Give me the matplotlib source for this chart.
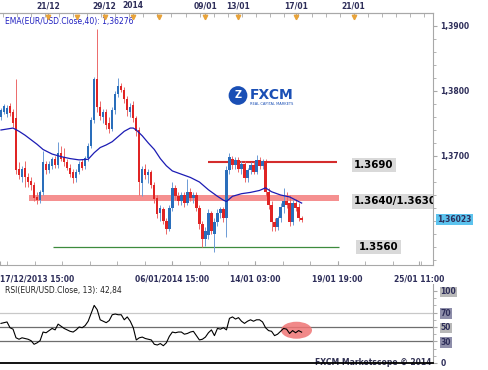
import numpy as np
import matplotlib.pyplot as plt
import matplotlib.transforms as mtransforms
from matplotlib.patches import Ellipse

# EUR/USD 4H candles
opens = [1.3760, 1.3768, 1.3765, 1.3777, 1.3768, 1.3758, 1.3680, 1.3668, 1.3682, 1.3668,
         1.3662, 1.3655, 1.3637, 1.3633, 1.3645, 1.3688, 1.3678, 1.3685, 1.3695, 1.3686,
         1.3705, 1.3698, 1.3690, 1.3682, 1.3675, 1.3666, 1.3676, 1.3690, 1.3684, 1.3697,
         1.3716, 1.3755, 1.3818, 1.3775, 1.3760, 1.3768, 1.3750, 1.3742, 1.3770, 1.3796,
         1.3808, 1.3802, 1.3788, 1.3768, 1.3778, 1.3758, 1.3740, 1.3658, 1.3680, 1.3670,
         1.3675, 1.3655, 1.3635, 1.3612, 1.3618, 1.3600, 1.3588, 1.3620, 1.3650, 1.3638,
         1.3630, 1.3640, 1.3628, 1.3645, 1.3635, 1.3640, 1.3620, 1.3595, 1.3572, 1.3578,
         1.3612, 1.3580, 1.3598, 1.3612, 1.3618, 1.3605, 1.3678, 1.3695, 1.3686, 1.3694,
         1.3680, 1.3688, 1.3666, 1.3678, 1.3686, 1.3676, 1.3694, 1.3684, 1.3692, 1.3645,
         1.3625, 1.3598, 1.3590, 1.3604, 1.3622, 1.3630, 1.3628, 1.3598, 1.3628, 1.3622,
         1.3604]
highs = [1.3774, 1.3780, 1.3778, 1.3781, 1.3772, 1.3818, 1.3690, 1.3685, 1.3692, 1.3674,
         1.3668, 1.3660, 1.3645, 1.3648, 1.3708, 1.3692, 1.3692, 1.3698, 1.3700, 1.3722,
         1.3715, 1.3712, 1.3695, 1.3688, 1.3680, 1.3680, 1.3692, 1.3696, 1.3700, 1.3720,
         1.3760, 1.3822, 1.3895, 1.3785, 1.3772, 1.3772, 1.3760, 1.3775, 1.3800, 1.3820,
         1.3812, 1.3806, 1.3792, 1.3782, 1.3784, 1.3762, 1.3745, 1.3685, 1.3688, 1.3680,
         1.3678, 1.3660, 1.3640, 1.3625, 1.3622, 1.3605, 1.3625, 1.3660, 1.3655, 1.3645,
         1.3645, 1.3645, 1.3665, 1.3650, 1.3645, 1.3645, 1.3625, 1.3600, 1.3590, 1.3618,
         1.3615, 1.3605, 1.3618, 1.3622, 1.3622, 1.3685, 1.3705, 1.3700, 1.3698, 1.3698,
         1.3692, 1.3692, 1.3682, 1.3690, 1.3690, 1.3702, 1.3698, 1.3696, 1.3695, 1.3650,
         1.3630, 1.3604, 1.3608, 1.3628, 1.3650, 1.3645, 1.3640, 1.3632, 1.3634, 1.3628,
         1.3608]
lows = [1.3756, 1.3764, 1.3760, 1.3762, 1.3745, 1.3672, 1.3665, 1.3660, 1.3652, 1.3652,
        1.3648, 1.3630, 1.3626, 1.3627, 1.3640, 1.3672, 1.3674, 1.3680, 1.3682, 1.3682,
        1.3692, 1.3685, 1.3678, 1.3668, 1.3658, 1.3660, 1.3672, 1.3678, 1.3680, 1.3692,
        1.3712, 1.3750, 1.3768, 1.3755, 1.3750, 1.3742, 1.3735, 1.3738, 1.3765, 1.3790,
        1.3798, 1.3782, 1.3762, 1.3760, 1.3752, 1.3730, 1.3640, 1.3638, 1.3665, 1.3658,
        1.3650, 1.3628, 1.3605, 1.3600, 1.3595, 1.3580, 1.3585, 1.3615, 1.3632, 1.3625,
        1.3625, 1.3622, 1.3625, 1.3630, 1.3628, 1.3615, 1.3588, 1.3560, 1.3562, 1.3572,
        1.3580, 1.3552, 1.3592, 1.3605, 1.3598, 1.3576, 1.3672, 1.3680, 1.3680, 1.3675,
        1.3672, 1.3660, 1.3660, 1.3672, 1.3672, 1.3672, 1.3680, 1.3680, 1.3638, 1.3618,
        1.3585, 1.3584, 1.3586, 1.3598, 1.3612, 1.3620, 1.3592, 1.3594, 1.3615, 1.3600,
        1.3598]
closes = [1.3771, 1.3777, 1.3774, 1.3766, 1.3750, 1.3678, 1.3670, 1.3680, 1.3668, 1.3660,
          1.3655, 1.3636, 1.3633, 1.3645, 1.3690, 1.3678, 1.3688, 1.3695, 1.3686, 1.3705,
          1.3696, 1.3690, 1.3682, 1.3672, 1.3666, 1.3676, 1.3688, 1.3682, 1.3697, 1.3716,
          1.3755, 1.3818, 1.3775, 1.3762, 1.3768, 1.3748, 1.3742, 1.3770, 1.3796, 1.3808,
          1.3802, 1.3788, 1.3770, 1.3776, 1.3758, 1.3738, 1.3660, 1.3680, 1.3670, 1.3675,
          1.3655, 1.3634, 1.3610, 1.3620, 1.3600, 1.3588, 1.3620, 1.3650, 1.3638, 1.3630,
          1.3640, 1.3628, 1.3645, 1.3635, 1.3640, 1.3620, 1.3595, 1.3572, 1.3585, 1.3612,
          1.3585, 1.3598, 1.3612, 1.3618, 1.3605, 1.3678, 1.3698, 1.3686, 1.3694, 1.3680,
          1.3688, 1.3666, 1.3678, 1.3686, 1.3676, 1.3694, 1.3684, 1.3692, 1.3645, 1.3625,
          1.3598, 1.3590, 1.3604, 1.3622, 1.3630, 1.3625, 1.3598, 1.3628, 1.3620, 1.3604,
          1.36023]

# EMA(40) (candle index, value)
ema_idx = [0, 4, 6, 8, 10, 12, 14, 17, 20, 23, 26, 29, 31, 33, 35, 37, 39, 41, 43, 44,
           45, 47, 49, 51, 53, 55, 57, 60, 63, 66, 69, 72, 74, 75, 77, 80, 83, 86, 88, 90,
           93, 96, 100]
ema_vals = [1.3740, 1.3743, 1.3738, 1.3732, 1.3725, 1.3718, 1.3710, 1.3703, 1.3699, 1.3696,
            1.3694, 1.3695, 1.3705, 1.3713, 1.3717, 1.3722, 1.3730, 1.3738, 1.3743, 1.3743,
            1.3740, 1.3731, 1.3720, 1.3710, 1.3696, 1.3685, 1.3677, 1.3672, 1.3667, 1.3660,
            1.3648, 1.3638, 1.3632, 1.3630, 1.3638, 1.3642, 1.3644, 1.3647, 1.3651, 1.3645,
            1.3640, 1.3637, 1.36276]

# RSI(13), one value per candle
rsi = [55, 56, 57, 49, 47, 35, 33, 35, 34, 33,
       31, 26, 28, 31, 43, 42, 45, 48, 46, 54,
       51, 48, 46, 44, 43, 46, 50, 49, 52, 58,
       69, 80, 74, 60, 58, 56, 59, 67, 68, 67,
       67, 60, 64, 58, 49, 32, 35, 36, 34, 33,
       32, 26, 25, 27, 24, 28, 37, 43, 42, 43,
       43, 40, 41, 43, 44, 38, 32, 33, 36, 42,
       46, 38, 48, 47, 49, 46, 62, 64, 61, 63,
       58, 55, 58, 60, 58, 60, 60, 57, 49, 45,
       44, 38, 40, 44, 48, 47, 41, 45, 42, 45,
       42.84]

# drawn levels
resist = 1.3690
zone = (1.3630, 1.3640)
support = 1.3560

top_labels = ["21/12", "29/12", "2014", "09/01", "13/01", "17/01", "21/01"]
top_pos = [15.7, 34.3, 44, 68, 79, 98, 117.3]
day_marks = [15.7, 25.3, 34.7, 44, 52.7, 68, 78.7, 98, 117.3]
bottom_labels = ["17/12/2013 15:00", "06/01/2014 15:00", "14/01 03:00", "19/01 19:00", "25/01 11:00"]
bottom_pos = [-0.3, 57, 84.5, 112, 139]

W, H = 489, 370
fig = plt.figure(figsize=(W / 100, H / 100), dpi=100)
fig.patch.set_facecolor('white')


def px_axes(x0, y0, x1, y1):
    return fig.add_axes([x0 / W, 1 - y1 / H, (x1 - x0) / W, (y1 - y0) / H])


navy = '#2e2e5a'
grey = '#a8a8a8'

ax = px_axes(0, 13, 433, 265)
ax2 = px_axes(0, 284, 433, 363)

# --- price panel ---
x = np.arange(len(closes))
o, h, l, c = map(np.array, (opens, highs, lows, closes))
up = c >= o
body_col = np.where(up, '#2a6ebb', '#e02424')
wick_col = np.where(up, '#6c9bd6', '#ec6a6a')

ax.fill_between([9.3, 112.3], zone[0], zone[1], color='#f48484', lw=0, alpha=0.9, zorder=1)
ax.hlines(resist, 68.7, 111.7, color='#d42c2c', lw=1.5, zorder=2)
ax.hlines(support, 17.3, 112.3, color='#3d8b3d', lw=0.9, zorder=2)

ax.vlines(x, l, h, colors=wick_col, lw=0.7, zorder=3)
ax.bar(x, np.maximum(np.abs(c - o), 0.00008), bottom=np.minimum(o, c), width=0.78,
       color=body_col, lw=0, zorder=4)
ax.plot(ema_idx, ema_vals, color='#1c1cb4', lw=0.9, zorder=5)

box = dict(boxstyle='square,pad=0.22', fc='#d9d9d9', ec='none')
ax.text(117.5, resist - 0.0004, f"{resist:.4f}", ha='left', va='center', fontsize=7.4,
        fontweight='bold', bbox=box, clip_on=True)
ax.text(117.5, zone[0], f"{zone[1]:.4f}/{zone[0]:.4f}", ha='left', va='center', fontsize=7.4,
        fontweight='bold', bbox=box, clip_on=True)
ax.text(119, support, f"{support:.4f}", ha='left', va='center', fontsize=7.4,
        fontweight='bold', bbox=box, clip_on=True)

ax.text(0.0115, 0.968, "EMA(EUR/USD.Close,40): " + f"{ema_vals[-1]:.5f}".replace('.', ','),
        transform=ax.transAxes, color='#2020c0', fontsize=5.5, va='center')

ax.set_xlim(-0.33, 143.7)
ax.set_ylim(1.35323, 1.39200)

ax.yaxis.tick_right()
yt = [1.37, 1.38, 1.39]
ax.set_yticks(yt)
ax.set_yticklabels([f"{v:.4f}".replace('.', ',') for v in yt])
ax.set_yticks(np.arange(1.354, 1.392, 0.002), minor=True)
ax.tick_params(axis='y', which='both', direction='out', color=grey, labelcolor=navy,
               labelsize=5.5, length=3, pad=2.5)
ax.tick_params(axis='y', which='minor', length=2)
for t in ax.get_yticklabels():
    t.set_fontweight('bold')

ax.text(1.01, closes[-1], f"{closes[-1]:.5f}".replace('.', ','),
        transform=mtransforms.blended_transform_factory(ax.transAxes, ax.transData),
        ha='left', va='center', fontsize=5.5, fontweight='bold', color=navy,
        bbox=dict(boxstyle='square,pad=0.15', fc='#5cc3ee', ec='none'), clip_on=False)

ax.set_xticks(bottom_pos, bottom_labels)
ax.set_xticks(np.arange(2, 144, 9.17), minor=True)
ax.tick_params(axis='x', which='both', direction='in', color=grey, labelcolor=navy,
               labelsize=5.5, length=3, pad=7)
for t in ax.get_xticklabels():
    t.set_fontweight('bold')
ax.get_xticklabels()[0].set_ha('left')

sec = ax.secondary_xaxis('top')
sec.set_xticks(top_pos, top_labels)
sec.set_xticks(np.arange(0.67, 144, 4.67), minor=True)
sec.tick_params(axis='x', which='both', direction='in', color=grey, labelcolor=navy,
                labelsize=5.5, length=3, pad=2)
for t in sec.get_xticklabels():
    t.set_fontweight('bold')
sec.spines['top'].set_color(grey)

ax.plot(day_marks, [0.985] * len(day_marks), 'v', color='#e8a33a', ms=3.2,
        transform=mtransforms.blended_transform_factory(ax.transData, ax.transAxes),
        clip_on=False, zorder=6)

ax.spines['left'].set_visible(False)
for s in ('top', 'right', 'bottom'):
    ax.spines[s].set_color(grey)
    ax.spines[s].set_linewidth(0.8)

# FXCM logo
fig.text(238 / W, 1 - 95.5 / H, "Z", color='white', fontsize=7, fontweight='bold',
         ha='center', va='center',
         bbox=dict(boxstyle='circle,pad=0.45', fc='#1a4fb5', ec='none'))
fig.text(250 / W, 1 - 95 / H, "FXCM", fontsize=10, fontweight='bold', color='#1a4fb5',
         ha='left', va='center')
fig.text(250 / W, 1 - 104 / H, "REAL CAPITAL MARKETS", fontsize=2.6, color='#1a4fb5',
         ha='left', va='center')

# --- RSI panel ---
ax2.add_patch(Ellipse((98.3, 45.5), 10.3, 23.6, color='#ef7474', alpha=0.85, lw=0, zorder=2))
ax2.axhline(70, color='#c8c8c8', lw=0.9, zorder=1)
ax2.axhline(50, color='#6e6e6e', lw=0.9, zorder=1)
ax2.axhline(30, color='#6e6e6e', lw=0.9, zorder=1)
ax2.plot(x, rsi, color='black', lw=0.8, zorder=4)

ax2.set_xlim(ax.get_xlim())
ax2.set_ylim(0, 109.7)
ax2.set_xticks([])
ax2.yaxis.tick_right()
rt = [0, 30, 50, 70, 100]
ax2.set_yticks(rt)
ax2.set_yticklabels([str(v) for v in rt])
ax2.set_yticks(np.arange(10, 101, 10), minor=True)
ax2.tick_params(axis='y', which='both', direction='out', color=grey, labelcolor=navy,
                labelsize=5.5, length=3, pad=2.5)
ax2.tick_params(axis='y', which='minor', length=2)
box_cols = {'100': '#b8b8b8', '70': '#8e8eaa', '50': '#b8b8b8', '30': '#8e8eaa'}
for t in ax2.get_yticklabels():
    t.set_fontweight('bold')
    if t.get_text() in box_cols:
        t.set_bbox(dict(boxstyle='square,pad=0.12', fc=box_cols[t.get_text()], ec='none'))

ax2.text(0.0115, 0.924, "RSI(EUR/USD.Close, 13): " + f"{rsi[-1]:.2f}".replace('.', ','),
         transform=ax2.transAxes, fontsize=5.5, va='center', color='#222222')
ax2.text(0.997, 0.01, "FXCM Marketscope © 2014", transform=ax2.transAxes, ha='right',
         va='center', fontsize=5.5, fontweight='bold', color='#333355', zorder=1)

ax2.spines['left'].set_visible(False)
ax2.spines['top'].set_visible(False)
ax2.spines['right'].set_color(grey)
ax2.spines['bottom'].set_color('black')
ax2.spines['bottom'].set_linewidth(1.3)

fig.savefig('out.png', dpi=100)
